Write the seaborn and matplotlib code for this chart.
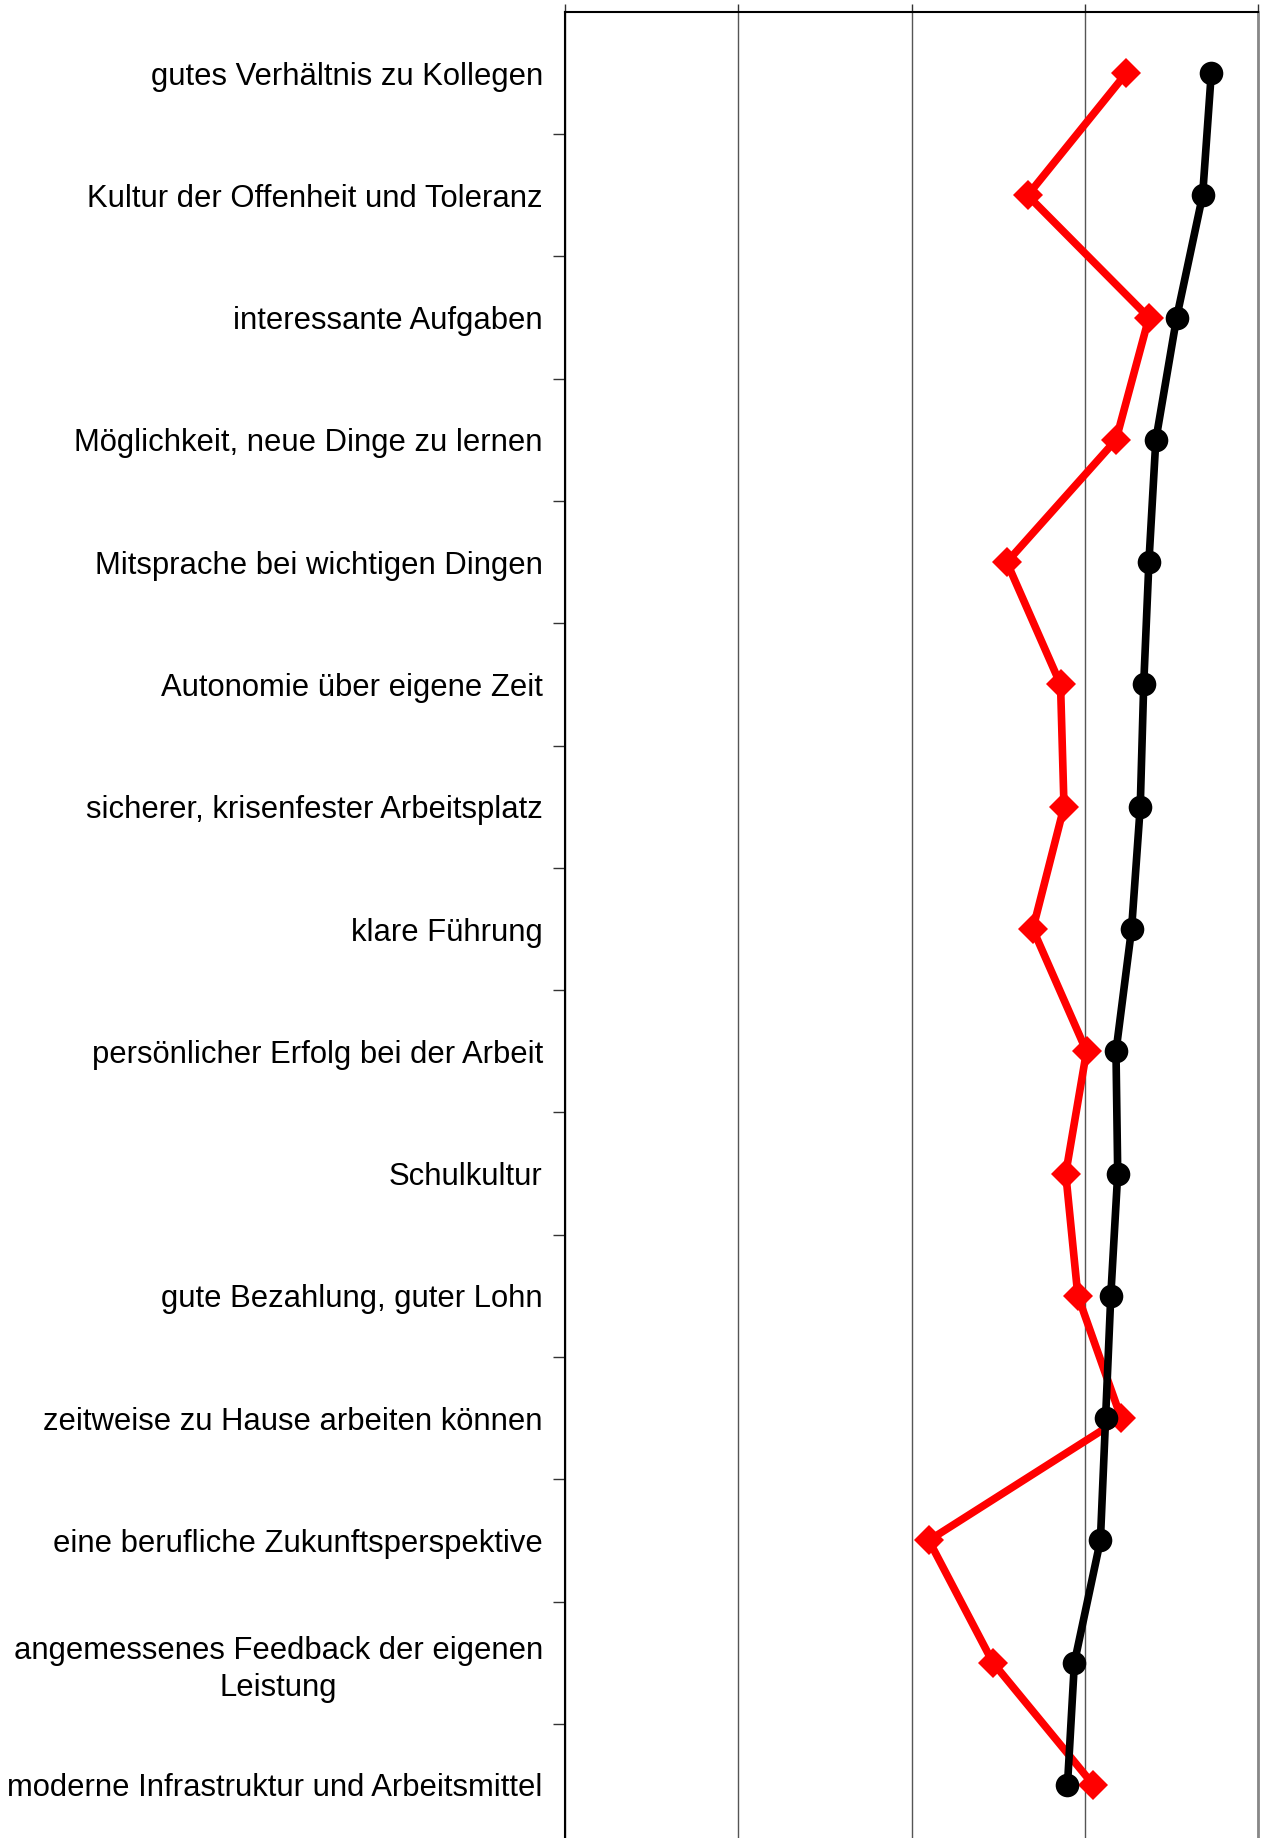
import numpy as np
import pandas as pd
import matplotlib
matplotlib.use("Agg")
import matplotlib.pyplot as plt
import seaborn as sns
from matplotlib.ticker import FixedLocator

categories = [
    "gutes Verhältnis zu Kollegen",
    "Kultur der Offenheit und Toleranz",
    "interessante Aufgaben",
    "Möglichkeit, neue Dinge zu lernen",
    "Mitsprache bei wichtigen Dingen",
    "Autonomie über eigene Zeit",
    "sicherer, krisenfester Arbeitsplatz",
    "klare Führung",
    "persönlicher Erfolg bei der Arbeit",
    "Schulkultur",
    "gute Bezahlung, guter Lohn",
    "zeitweise zu Hause arbeiten können",
    "eine berufliche Zukunftsperspektive",
    "angemessenes Feedback der eigenen\nLeistung",
    "moderne Infrastruktur und Arbeitsmittel",
]
black_values = [4.73, 4.68, 4.53, 4.41, 4.37, 4.34, 4.32, 4.27, 4.18, 4.19,
                4.15, 4.12, 4.09, 3.94, 3.90]
red_values = [4.24, 3.67, 4.37, 4.18, 3.55, 3.86, 3.88, 3.70, 4.01, 3.89,
              3.96, 4.21, 3.10, 3.47, 4.05]
x_ticks = [1, 2, 3, 4, 5]

sns.set_style("white")
plt.rcParams["font.family"] = ["Liberation Sans", "DejaVu Sans"]
plt.rcParams["text.color"] = "black"
plt.rcParams["ytick.color"] = "black"
plt.rcParams["xtick.color"] = "black"

pos = np.arange(len(categories))
df = pd.DataFrame({"pos": pos, "black": black_values, "red": red_values})

fig = plt.figure(figsize=(12.64, 18.38), dpi=100)
ax = fig.add_axes([0.447, -0.0044, 0.5483, 0.9979])

sns.lineplot(data=df, x="red", y="pos", sort=False, estimator=None, ax=ax,
             color="#ff0000", lw=5.5, marker="D", markersize=15,
             markeredgewidth=0, zorder=3)
sns.lineplot(data=df, x="black", y="pos", sort=False, estimator=None, ax=ax,
             color="black", lw=5.5, marker="o", markersize=17,
             markeredgewidth=0, zorder=4)

ax.set_xlim(x_ticks[0], x_ticks[-1])
ax.set_ylim(len(categories) - 0.5, -0.5)

# x axis on top, no labels
ax.xaxis.tick_top()
ax.set_xticks(x_ticks)
ax.set_xticklabels([])
ax.tick_params(axis="x", which="major", length=6, width=1, color="#333333", top=True, bottom=False)
ax.grid(axis="x", color="#555555", lw=1)
ax.grid(axis="y", visible=False)

# y axis: labels at centers, tick marks at boundaries
ax.set_yticks(pos)
ax.set_yticklabels(categories, fontsize=22.3, multialignment="center",
                   linespacing=1.3, color="black")
ax.yaxis.set_minor_locator(FixedLocator(np.arange(0.5, len(categories) - 0.5, 1)))
ax.tick_params(axis="y", which="major", length=0, pad=16)
ax.tick_params(axis="y", which="minor", length=9, width=1, color="#333333", left=True)

ax.set_xlabel("")
ax.set_ylabel("")

for side in ["top", "left"]:
    ax.spines[side].set_color("black")
    ax.spines[side].set_linewidth(1.5)
ax.spines["right"].set_color("#888888")
ax.spines["right"].set_linewidth(2)
ax.spines["bottom"].set_visible(False)

fig.savefig("out.png", dpi=100)
